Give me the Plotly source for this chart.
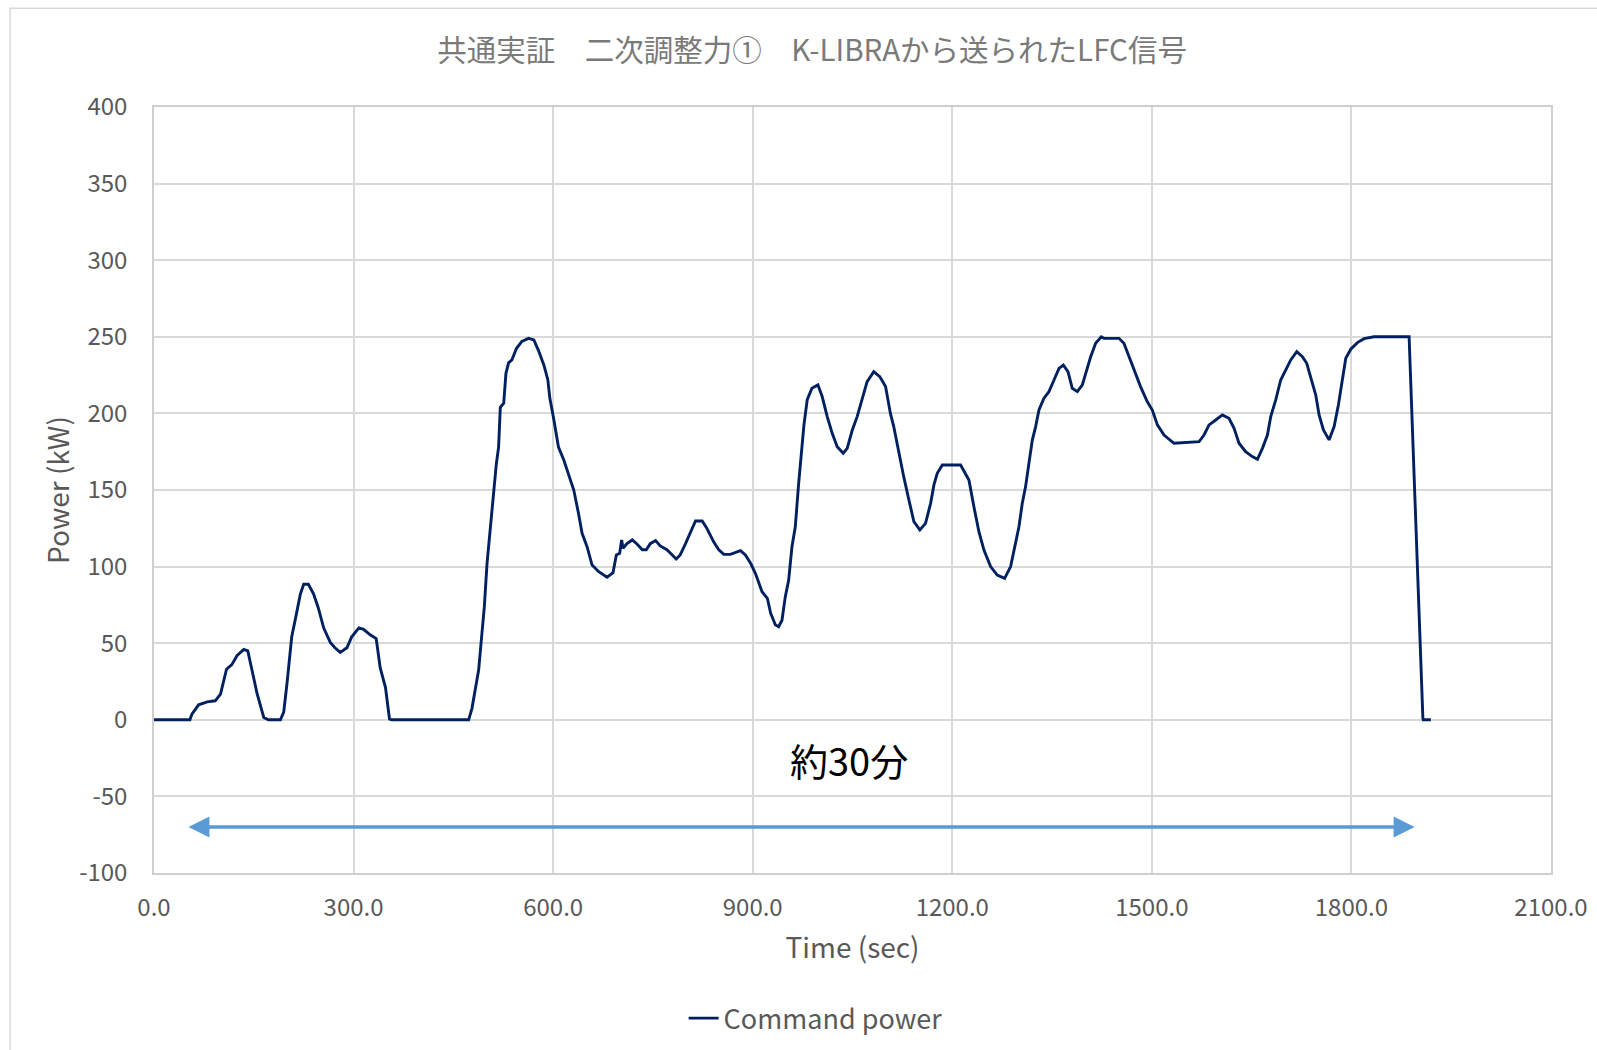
import plotly.graph_objects as go

# LFC command signal received from K-LIBRA (time in seconds, power in kW)
time_sec = [
    0, 54, 57, 62, 67, 80, 92, 100, 105, 109, 117, 125, 135, 141, 147, 155, 165, 172,
    190, 195, 200, 207, 214, 220, 225, 232, 240, 247, 255, 265, 272, 280, 290, 297,
    308, 315, 325, 334, 340, 348, 354, 357, 470, 473, 478, 483, 488, 493, 496.6,
    500.6, 505.6, 509, 511.6, 514.6, 518, 520.6, 525.7, 529, 533, 538, 545, 553,
    563, 571, 578, 586, 592, 595, 601, 608, 616, 623, 631, 638, 643.5, 651, 658.5,
    668.5, 681, 690, 695, 700, 703, 705, 711, 719, 726, 734, 740, 746, 754, 761,
    771, 785, 791, 799, 806, 814, 824, 831, 841.5, 849, 856.5, 866.5, 881.6, 889,
    897, 904, 914, 922, 927, 934, 939, 944, 949, 954, 959, 964, 969, 974, 977, 982,
    989, 998, 1004.4, 1012, 1019.5, 1027, 1036, 1042, 1049.6, 1057, 1064.6, 1072,
    1082, 1091, 1099.7, 1107, 1112, 1119.7, 1127, 1134.8, 1142.3, 1151.3, 1159.8,
    1167.4, 1172.4, 1177.4, 1185, 1212.5, 1220, 1225, 1232.5, 1240, 1247.6, 1257.6,
    1267.6, 1278.7, 1287.7, 1295.2, 1300.2, 1305.2, 1310.2, 1315.2, 1320.3, 1325.3,
    1330.3, 1337.8, 1345.3, 1352.9, 1360.4, 1366.9, 1373.9, 1380.4, 1388, 1395.5,
    1400.5, 1408, 1415.5, 1424, 1428, 1450.6, 1458, 1465.6, 1473, 1483, 1493,
    1500.7, 1508.3, 1518.3, 1533.3, 1553.4, 1571, 1578.4, 1586, 1596, 1606, 1616,
    1623.6, 1631, 1641, 1651, 1658.7, 1666.2, 1673.7, 1678.7, 1686.2, 1693.7,
    1701.3, 1708.8, 1717.8, 1726.3, 1732.8, 1738.9, 1746.4, 1751.4, 1757.9, 1766.4,
    1774, 1780.4, 1786.5, 1791.5, 1799, 1809, 1819, 1834, 1886.7, 1889.3, 1892.8,
    1895.4, 1898.4, 1901.9, 1905.4, 1907.4, 1908, 1919.4,
]
command_kw = [
    0, 0, 3.7, 7, 9.8, 11.7, 12.4, 16.8, 25.5, 33, 36, 42, 46, 45, 33, 17, 1.5, 0,
    0, 5, 24, 54, 69, 82, 88.5, 88.5, 82, 73, 60, 50.5, 47, 44, 47, 54,
    60, 59, 55.5, 53, 34, 21, 0.5, 0, 0, 0, 7.5, 21.6, 32.5, 56.5, 74,
    102, 126, 137, 154, 167, 178, 204, 206.6, 226, 233, 235, 242.5, 247,
    249, 248, 241, 231.6, 222, 210, 196, 178, 169.6, 161, 150, 135, 121.7, 113, 101,
    96.7, 93, 96, 107.6, 108.7, 117.4, 112, 115, 117.4, 114.8, 111, 111, 115, 117, 113.5,
    111, 105, 107.6, 115, 121.7, 129.8, 129.8, 125, 116, 111, 108, 108, 110.4, 107.6,
    102, 95.6, 83.6, 79.3, 69.5, 62, 60.8, 65, 80.4, 91, 113, 126, 154, 178, 192.5, 209,
    216.4, 218.6, 211, 197.9, 187, 178.3, 174, 177.2, 189, 197.9, 208.8, 220.7,
    227.3, 224, 217.5, 200, 191.4, 174, 158.7, 143.5, 129.3, 123.9, 128.2,
    141.3, 153.3, 160.9, 166.3, 166.3, 160.9, 156.5, 139.1, 122.8, 110.8, 100,
    94.5, 92.3, 100, 115.2, 126, 141.3, 152.2, 167.4, 182.6, 191.4,
    202.2, 209.9, 214.2, 221.8, 229.4, 231.6, 227.3, 216.4, 214.2, 218.6,
    226.2, 237, 245.8, 250, 249, 249, 245.8, 237, 228.4, 217.5, 207.7,
    202.2, 192.5, 185.9, 180.5, 181, 181.6, 185.9, 192.5, 195.7, 199, 196.8,
    190.3, 180.5, 175, 171.8, 170, 177.2, 185.9, 197.9, 208.8, 221.8,
    228.4, 234.9, 240.3, 237, 232.7, 222.9, 212, 199, 189.2, 182.7,
    191.4, 205.5, 221.8, 236, 241.9, 246.2, 248.8, 250, 250, 217.5, 180.5,
    147.8, 100, 63, 26, 1, 0, 0,
]

# axis ticks
x_ticks = [0, 300, 600, 900, 1200, 1500, 1800, 2100]
y_ticks = [-100, -50, 0, 50, 100, 150, 200, 250, 300, 350, 400]

series_name = "Command power"
chart_title = "共通実証　二次調整力①　K-LIBRAから送られたLFC信号"
x_title = "Time (sec)"
y_title = "Power (kW)"
span_label = "約30分"
span_start, span_end, span_level = 49.5, 1895, -70

FONT = "Noto Sans CJK JP"
GRID = "#D9D9D9"
TEXT = "#595959"

fig = go.Figure()
fig.add_trace(go.Scatter(
    x=time_sec, y=command_kw, mode="lines", name=series_name,
    line=dict(color="#002060", width=2.9),
))

# duration label and double-headed span arrow
fig.add_annotation(
    x=1045, y=-26, xref="x", yref="y", text=span_label, showarrow=False,
    font=dict(family=FONT, size=38, color="#000000"),
)
fig.add_annotation(
    x=span_end, y=span_level, ax=span_start, ay=span_level,
    xref="x", yref="y", axref="x", ayref="y",
    text="", showarrow=True, arrowside="end+start",
    arrowhead=2, arrowsize=1.2, arrowwidth=3.5, arrowcolor="#5B9BD5",
)

# outer chart frame
fig.add_shape(
    type="rect", xref="paper", yref="paper",
    x0=-0.103, x1=1.2, y0=-0.5, y1=1.129,
    line=dict(color=GRID, width=1.5), fillcolor="rgba(0,0,0,0)", layer="below",
)

fig.update_layout(
    width=1597, height=1050,
    margin=dict(l=154, r=46, t=107, b=177, autoexpand=False),
    paper_bgcolor="white", plot_bgcolor="white",
    font=dict(family=FONT, color=TEXT),
    title=dict(
        text=chart_title, x=0.5085, y=0.9514, xref="container", yref="container",
        xanchor="center", yanchor="middle",
        font=dict(family=FONT, size=29.5, color="#7A7A7A"),
    ),
    showlegend=True,
    legend=dict(
        orientation="h", x=0.4736, y=-0.19, xanchor="center", yanchor="middle",
        font=dict(family=FONT, size=27, color=TEXT), bgcolor="rgba(0,0,0,0)",
    ),
    xaxis=dict(
        range=[0, 2100], tickvals=x_ticks,
        ticktext=[f"{v:.1f}" for v in x_ticks],
        showgrid=True, gridcolor=GRID, gridwidth=1.5,
        showline=True, linecolor="#CFCFCF", linewidth=1.5, mirror=True,
        zeroline=False, ticks="", ticklabelstandoff=12,
        tickfont=dict(family=FONT, size=24, color=TEXT),
        title=dict(text=x_title, standoff=17,
                   font=dict(family=FONT, size=28, color=TEXT)),
    ),
    yaxis=dict(
        range=[-100, 400], tickvals=y_ticks,
        ticktext=[str(v) for v in y_ticks],
        showgrid=True, gridcolor=GRID, gridwidth=1.5,
        showline=True, linecolor="#CFCFCF", linewidth=1.5, mirror=True,
        zeroline=False, ticks="", ticklabelstandoff=20,
        tickfont=dict(family=FONT, size=24, color=TEXT),
        title=dict(text=y_title, standoff=1,
                   font=dict(family=FONT, size=28, color=TEXT)),
    ),
)

fig.write_html("out.html")
